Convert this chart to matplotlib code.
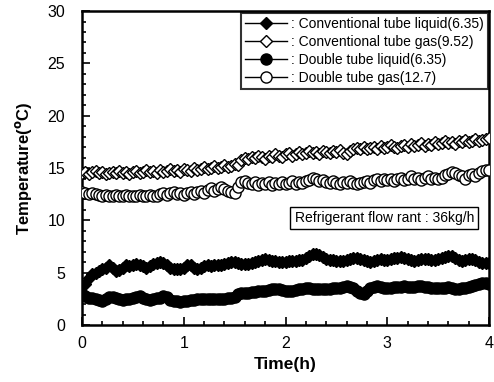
import numpy as np
import matplotlib
matplotlib.use("Agg")
import matplotlib.pyplot as plt
from matplotlib.ticker import MultipleLocator

plt.rcParams['font.family'] = ['Liberation Sans', 'DejaVu Sans']

conv_liquid = [3.0, 3.9, 4.5, 4.9, 5.0, 5.2, 5.4, 5.5, 5.7, 5.5, 5.2,
               5.3, 5.5, 5.7, 5.6, 5.7, 5.8, 5.7, 5.6, 5.5, 5.6,
               5.8, 5.9, 6.0, 5.9, 5.7, 5.5, 5.4, 5.4, 5.35, 5.5,
               5.7, 5.7, 5.5, 5.35, 5.5, 5.6, 5.7, 5.6, 5.7, 5.7,
               5.7, 5.8, 5.9, 6.0, 6.05, 5.9, 5.8, 5.8, 5.85, 5.95,
               6.05, 6.15, 6.2, 6.3, 6.25, 6.15, 6.1, 6.05, 6.0, 6.05,
               6.1, 6.1, 6.15, 6.2, 6.25, 6.4, 6.6, 6.75, 6.8, 6.7,
               6.5, 6.35, 6.25, 6.2, 6.15, 6.1, 6.15, 6.2, 6.3, 6.4,
               6.4, 6.3, 6.2, 6.1, 6.05, 6.15, 6.25, 6.3, 6.25, 6.2,
               6.3, 6.4, 6.45, 6.5, 6.4, 6.3, 6.2, 6.15, 6.2, 6.3,
               6.35, 6.3, 6.2, 6.25, 6.35, 6.45, 6.5, 6.6, 6.6, 6.45,
               6.25, 6.15, 6.2, 6.3, 6.3, 6.2, 6.05, 5.95, 5.9, 5.9]

conv_gas = [14.5, 14.6, 14.4, 14.6, 14.7, 14.5, 14.6, 14.4, 14.5, 14.6, 14.5,
            14.7, 14.5, 14.6, 14.4, 14.6, 14.7, 14.5, 14.6, 14.8, 14.6,
            14.7, 14.5, 14.8, 14.6, 14.7, 14.9, 14.7, 14.8, 14.6, 14.9,
            14.8, 14.7, 15.0, 14.8, 14.9, 15.1, 14.9, 15.0, 15.2, 15.0,
            15.1, 15.3, 15.1, 15.2, 15.4, 15.3, 15.8, 16.0, 15.9, 16.1,
            16.0, 16.2, 16.1, 15.9, 16.2, 16.1, 16.3, 16.2, 16.1, 16.3,
            16.4, 16.2, 16.3, 16.5, 16.3, 16.4, 16.6, 16.4, 16.5, 16.3,
            16.6, 16.5, 16.4, 16.6, 16.5, 16.7, 16.4, 16.3, 16.6, 16.8,
            16.9, 16.8, 17.0, 16.8, 16.9, 17.0, 16.8, 17.1, 16.9, 17.0,
            17.2, 17.0, 16.9, 17.1, 17.2, 17.0, 17.3, 17.1, 17.2, 17.4,
            17.1, 17.3, 17.2, 17.5, 17.3, 17.4, 17.6, 17.4, 17.5, 17.3,
            17.6, 17.5, 17.7, 17.5, 17.6, 17.8, 17.6, 17.7, 17.8, 17.9]

double_liquid = [3.0, 2.75, 2.6, 2.55, 2.45, 2.4, 2.3, 2.45, 2.7, 2.7, 2.55,
                 2.45, 2.4, 2.45, 2.5, 2.55, 2.65, 2.75, 2.6, 2.5, 2.4,
                 2.45, 2.55, 2.6, 2.75, 2.65, 2.4, 2.3, 2.3, 2.25, 2.3,
                 2.3, 2.35, 2.4, 2.45, 2.45, 2.45, 2.45, 2.5, 2.45, 2.45,
                 2.45, 2.5, 2.55, 2.6, 2.7, 3.0, 3.1, 3.1, 3.1, 3.15,
                 3.2, 3.25, 3.25, 3.3, 3.35, 3.4, 3.4, 3.4, 3.35, 3.3,
                 3.25, 3.3, 3.35, 3.4, 3.45, 3.5, 3.5, 3.45, 3.4, 3.4,
                 3.4, 3.4, 3.45, 3.5, 3.5, 3.55, 3.6, 3.7, 3.65, 3.5,
                 3.3, 3.05, 3.0, 3.3, 3.5, 3.65, 3.7, 3.65, 3.55, 3.5,
                 3.55, 3.6, 3.6, 3.65, 3.7, 3.65, 3.6, 3.65, 3.7, 3.7,
                 3.65, 3.6, 3.55, 3.5, 3.5, 3.5, 3.55, 3.6, 3.55, 3.45,
                 3.45, 3.5, 3.55, 3.6, 3.7, 3.85, 3.95, 4.0, 4.0, 3.95]

double_gas = [12.7, 12.6, 12.5, 12.6, 12.5, 12.4, 12.3, 12.4, 12.3, 12.3, 12.4,
              12.3, 12.3, 12.4, 12.3, 12.3, 12.3, 12.4, 12.3, 12.3, 12.4,
              12.3, 12.3, 12.5, 12.6, 12.4, 12.6, 12.7, 12.5, 12.6, 12.4,
              12.6, 12.7, 12.5, 12.7, 12.8, 12.6, 12.9, 13.1, 12.8, 13.0,
              13.2, 13.0, 12.8, 12.7, 12.6, 13.2, 13.7, 13.8, 13.6, 13.5,
              13.7, 13.4, 13.6, 13.5, 13.7, 13.4, 13.6, 13.5, 13.7, 13.5,
              13.6, 13.8, 13.5, 13.7, 13.6, 13.8, 13.9, 14.1, 14.0, 13.8,
              13.9, 13.7, 13.6, 13.8, 13.6, 13.5, 13.7, 13.6, 13.8, 13.6,
              13.5, 13.6, 13.7, 13.8, 13.6, 13.9, 14.0, 13.8, 14.0, 13.9,
              14.0, 13.8, 14.0, 14.1, 13.9, 14.0, 14.2, 14.0, 14.1, 13.9,
              14.1, 14.2, 14.0, 14.1, 14.0, 14.1, 14.3, 14.4, 14.6, 14.5,
              14.3, 14.2, 14.0, 14.3, 14.4, 14.2, 14.5, 14.7, 14.8, 14.8]

labels = [": Conventional tube liquid(6.35)",
          ": Conventional tube gas(9.52)",
          ": Double tube liquid(6.35)",
          ": Double tube gas(12.7)"]

time_h = np.linspace(0, 4, len(conv_liquid))

fig = plt.figure(figsize=(4.94, 3.82), dpi=100)
ax = fig.add_axes([0.166, 0.149, 0.824, 0.822])

ax.plot(time_h, conv_gas, color='black', lw=1, marker='D', ms=6.5,
        mfc='white', mec='black', mew=1, label=labels[1], zorder=3)
ax.plot(time_h, double_gas, color='black', lw=1, marker='o', ms=8,
        mfc='white', mec='black', mew=1, label=labels[3], zorder=3)
ax.plot(time_h, double_liquid, color='black', lw=1, marker='o', ms=8,
        mfc='black', mec='black', mew=1, label=labels[2], zorder=3)
ax.plot(time_h, conv_liquid, color='black', lw=1, marker='D', ms=6.5,
        mfc='black', mec='black', mew=1, label=labels[0], zorder=3)

ax.set_xlim(0, 4)
ax.set_ylim(0, 30)
ax.xaxis.set_major_locator(MultipleLocator(1))
ax.xaxis.set_minor_locator(MultipleLocator(0.2))
ax.yaxis.set_major_locator(MultipleLocator(5))
ax.yaxis.set_minor_locator(MultipleLocator(1))
ax.tick_params(which='both', direction='in', top=False, right=False,
               labelsize=11.5, width=1.2)
ax.tick_params(which='major', length=6)
ax.tick_params(which='minor', length=3)
ax.tick_params(axis='x', which='major', pad=8)
ax.tick_params(axis='y', which='major', pad=12)
for s in ax.spines.values():
    s.set_linewidth(1.8)

ax.set_xlabel("Time(h)", fontsize=12.5, fontweight='bold', labelpad=4)
ax.set_ylabel("Temperature($\\mathbf{^{o}}$C)", fontsize=12, fontweight='bold', labelpad=10)

h, l = ax.get_legend_handles_labels()
order = [l.index(x) for x in labels]
leg = ax.legend([h[i] for i in order], [l[i] for i in order],
                loc='upper right', bbox_to_anchor=(0.997, 0.995),
                fontsize=10, frameon=True, fancybox=False, edgecolor='black',
                handlelength=3.0, handletextpad=0.3, borderpad=0.3,
                labelspacing=0.3, borderaxespad=0.0)
leg.get_frame().set_linewidth(1.5)

ax.text(2.97, 10.2, "Refrigerant flow rant : 36kg/h", fontsize=10,
        ha='center', va='center',
        bbox=dict(boxstyle='square,pad=0.3', fc='white', ec='black', lw=1))

fig.savefig("out.png", dpi=100)
